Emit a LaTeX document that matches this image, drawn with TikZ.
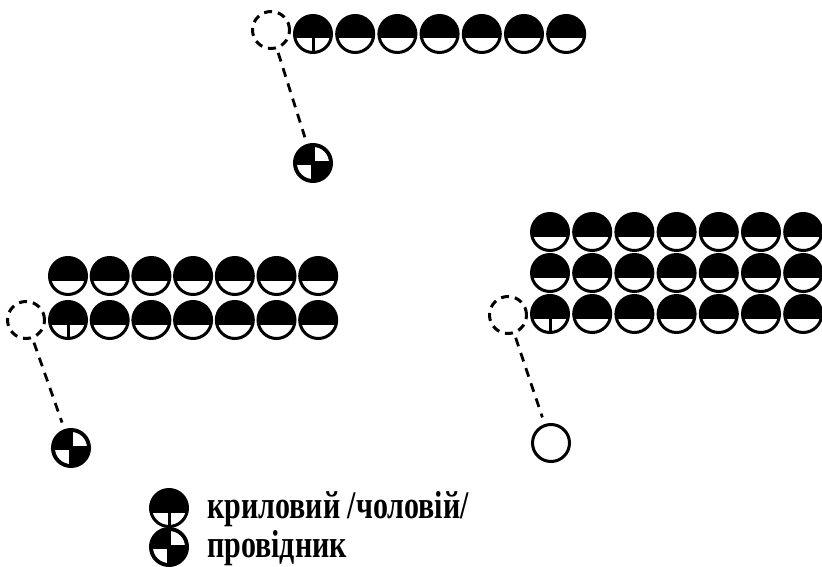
\documentclass[tikz,border=0pt]{standalone}
\usepackage{fontspec}
\setmainfont{Liberation Serif}
\begin{document}
\begin{tikzpicture}[x=1pt,y=-1pt,
 base/.style={circle, minimum size=37pt, inner sep=0pt, line width=3pt, draw=black},
 wing/.style={base, path picture={\fill[black] (path picture bounding box.north west) rectangle ([yshift=-4.5pt]path picture bounding box.east);}},
 wingT/.style={base, path picture={\fill[black] (path picture bounding box.north west) rectangle ([yshift=-4.5pt]path picture bounding box.east); \draw[line width=3pt] ([yshift=-4pt]path picture bounding box.center) -- (path picture bounding box.south);}},
 lead/.style={base, fill=black, path picture={\begin{scope}\clip (path picture bounding box.center) circle (16pt); \fill[white] ([shift={(2pt,2pt)}]path picture bounding box.center) rectangle (path picture bounding box.north east); \fill[white] ([shift={(-2pt,-2pt)}]path picture bounding box.center) rectangle (path picture bounding box.south west);\end{scope}}},
 openc/.style={base},
 ghost/.style={base, dash pattern=on 8pt off 6pt},
 link/.style={line width=2.8pt, dash pattern=on 9pt off 7pt, shorten <=4pt, shorten >=7pt},
 legend/.style={anchor=west, font=\bfseries\fontsize{30}{30}\selectfont, inner sep=0pt}
]
\useasboundingbox (0,0) rectangle (822,567);
\clip (0,0) rectangle (822,567);
% top group
\node[ghost] (g1) at (271,30) {};
\node[wingT] (a1) at (313,34) {};
\foreach \i in {2,...,7} \node[wing] (a\i) at ({313+42.2*(\i-1)},34) {};
\node[lead] (l1) at (313,163) {};
\draw[link] (g1) -- (l1);
% left group
\foreach \i in {1,...,7} \node[wing] (b\i) at ({68+41.7*(\i-1)},276) {};
\node[wingT] (c1) at (68,320) {};
\foreach \i in {2,...,7} \node[wing] (c\i) at ({68+41.7*(\i-1)},320) {};
\node[ghost] (g2) at (26,320) {};
\node[lead] (l2) at (71,448) {};
\draw[link] (g2) -- (l2);
% right group
\foreach \i in {1,...,7} \node[wing] (d\i) at ({550+42.2*(\i-1)},232) {};
\foreach \i in {1,...,7} \node[wing] (e\i) at ({550+42.2*(\i-1)},273) {};
\node[wingT] (f1) at (550,314) {};
\foreach \i in {2,...,7} \node[wing] (f\i) at ({550+42.2*(\i-1)},314) {};
\node[ghost] (g3) at (508,315) {};
\node[openc] (o3) at (551,443) {};
\draw[link] (g3) -- (o3);
% legend
\node[wingT] (k1) at (169,508) {};
\node[lead] (k2) at (169,547) {};
\node[legend] (t1) at (207,509) {\scalebox{1}[1.3]{криловий /чоловій/}};
\node[legend] (t2) at (207,548) {\scalebox{1}[1.3]{провідник}};
\end{tikzpicture}
\end{document}
